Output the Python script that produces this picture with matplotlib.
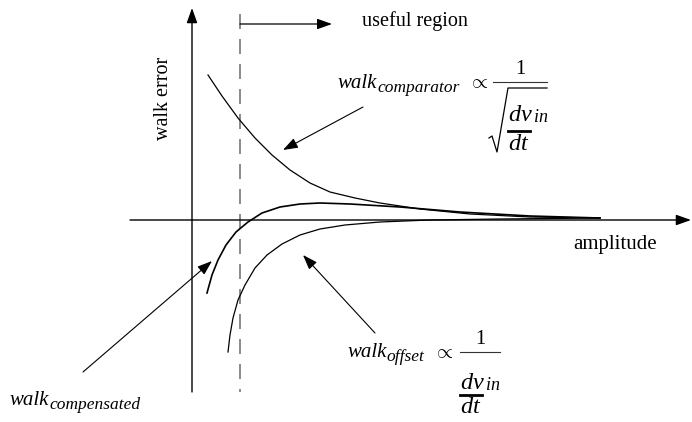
import matplotlib.pyplot as plt

plt.rcParams['font.family'] = ['Liberation Serif', 'DejaVu Serif']
plt.rcParams['mathtext.fontset'] = 'custom'
plt.rcParams['mathtext.rm'] = 'Liberation Serif'
plt.rcParams['mathtext.it'] = 'Liberation Serif:italic'

# Curves (pixel coords, y grows downward)
comparator_x = [208, 222, 238, 255, 272, 290, 310, 330, 355, 380, 420, 470, 530, 600]
comparator_y = [75, 96, 118, 138, 155, 170, 183, 192, 198, 203, 209, 214, 217, 218]

compensated_x = [207, 212, 218, 226, 236, 248, 262, 280, 300, 320, 350, 400, 460, 530, 600]
compensated_y = [293, 275, 260, 245, 232, 222, 213, 207, 204, 203, 204, 207, 212, 216, 218]

offset_x = [228, 230, 233, 238, 245, 255, 267, 282, 300, 320, 345, 380, 430, 500, 600]
offset_y = [352, 335, 318, 300, 285, 268, 255, 244, 235, 229, 225, 222, 220, 219, 218]

fig = plt.figure(figsize=(6.92, 4.22), dpi=100)
ax = fig.add_axes([0, 0, 1, 1])
ax.set_xlim(0, 692)
ax.set_ylim(422, 0)
ax.axis('off')
renderer = fig.canvas.get_renderer()

head = '-|>,head_length=0.9,head_width=0.32'


def arrow(tip, tail, lw=0.8):
    ax.annotate('', xy=tip, xytext=tail,
                arrowprops=dict(arrowstyle=head, color='black', lw=lw, shrinkA=0, shrinkB=0))


def walk_label(x, y, sub):
    #"walk" in italic, then a subscript placed right after it
    t = ax.text(x, y, 'walk', fontsize=15, style='italic', va='baseline')
    ext = t.get_window_extent(renderer)
    ax.text(ext.x1, y + 4, sub, fontsize=12.5, style='italic', va='baseline')


def fraction(x0, x1, y_one, y_bar, dv_dy, bar_dy, dt_dy, sqrt=False):
    #numerator, fraction bar and stacked dv_in / dt
    xc = (x0 + x1) / 2
    ax.text(xc, y_one, '1', fontsize=14.5, ha='center', va='center')
    ax.plot([x0, x1], [y_bar, y_bar], color='#333333', lw=0.8)
    left = x0 + 15 if sqrt else x0
    ax.text(left, y_bar + dv_dy, r'$dv$', fontsize=17.5, va='baseline')
    ax.text(left + 25, y_bar + dv_dy + 1, r'$in$', fontsize=13, va='baseline')
    ax.plot([left, left + 22], [y_bar + bar_dy, y_bar + bar_dy], color='black', lw=2)
    ax.text(left, y_bar + dt_dy, r'$dt$', fontsize=17.5, va='baseline')
    if sqrt:
        ax.plot([x0 - 4, x0 - 1, x0 + 4, x0 + 15, x1],
                [y_bar + 56, y_bar + 54, y_bar + 70, y_bar + 6, y_bar + 6],
                color='black', lw=0.9)


#Axes with arrow heads
arrow((691, 220), (130, 220), lw=1.0)
arrow((192, 8), (192, 392), lw=1.0)

#Useful region marker
ax.plot([240, 240], [14, 392], color='#777777', lw=1.2, dashes=(9, 6))
arrow((332, 24), (240, 24), lw=0.9)
ax.text(362, 21, 'useful region', fontsize=14.5, ha='left', va='center')

#The three walk curves
ax.plot(comparator_x, comparator_y, color='black', lw=0.9)
ax.plot(compensated_x, compensated_y, color='black', lw=1.2)
ax.plot(offset_x, offset_y, color='black', lw=0.9)

#Axis labels
ax.text(163, 98, 'walk error', fontsize=14.5, rotation=90, ha='center', va='center')
ax.text(615, 245, 'amplitude', fontsize=15, ha='center', va='center')

#Pointer arrows
arrow((283, 150), (363, 107))
arrow((212, 261), (83, 372))
arrow((303, 255), (375, 333))

#Formulas
walk_label(338, 88, 'comparator')
ax.text(478, 84, r'$\propto$', fontsize=15, ha='center', va='center')
fraction(493, 547, 69, 82, 39, 49, 68, sqrt=True)

walk_label(347, 357, 'offset')
ax.text(443, 353, r'$\propto$', fontsize=15, ha='center', va='center')
fraction(460, 500, 340, 352, 37, 43, 61)

walk_label(10, 405, 'compensated')

fig.savefig('out.png', dpi=100)
